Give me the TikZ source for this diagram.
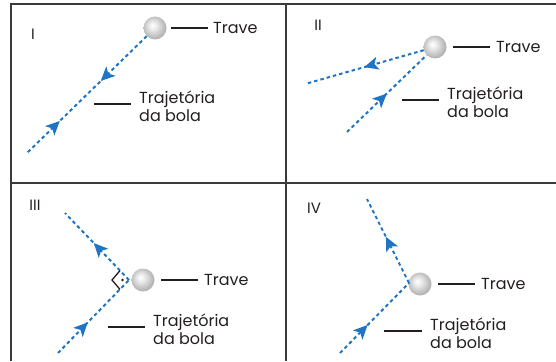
\documentclass[tikz,border=0pt]{standalone}
\usepackage{fontspec}
\setmainfont{Poppins}
\usetikzlibrary{arrows.meta,decorations.markings}
\definecolor{traj}{HTML}{1F75C4}
\definecolor{framec}{HTML}{3A3A3A}
\definecolor{ink}{HTML}{231F20}
\pgfdeclareradialshading{traveshade}{\pgfpoint{-6bp}{6bp}}{%
  color(0bp)=(white); color(8bp)=(gray!15); color(20bp)=(gray!45); color(26bp)=(gray!60); color(50bp)=(gray!60)}
\begin{document}
\begin{tikzpicture}[x=1pt,y=-1pt,
  frameline/.style={draw=framec, line width=2pt},
  trave/.style={circle, minimum size=23pt, inner sep=0pt, shading=traveshade},
  leader/.style={draw=ink, line width=1.3pt},
  lbl/.style={anchor=west, inner sep=0pt, text=ink, font=\fontsize{16}{18}\selectfont, align=left},
  num/.style={inner sep=0pt, text=ink, font=\fontsize{15}{18}\selectfont},
  trajline/.style={draw=traj, line width=2pt, dash pattern=on 3.5pt off 3pt},
  fwd/.style={postaction={decorate, decoration={markings, mark=at position #1 with {\arrow[traj]{Stealth[length=14pt,width=13pt,inset=3.5pt]}}}}},
  bwd/.style={postaction={decorate, decoration={markings, mark=at position #1 with {\arrowreversed[traj]{Stealth[length=14pt,width=13pt,inset=3.5pt]}}}}},
  rightang/.style={draw=ink, line width=1.3pt},
]
\useasboundingbox (0,0) rectangle (556,361);
% frame
\draw[frameline] (556,4) -- (11,4) -- (11,361);
\draw[frameline] (285.5,4) -- (285.5,361);
\draw[frameline] (11,183) -- (556,183);

% Panel I
\node[num] (nI) at (33,34) {I};
\node[trave] (bI) at (155,28) {};
\node[lbl] (tI) at (213,28) {Trave};
\draw[leader] ([xshift=4.5pt]bI.east) -- ([xshift=-5pt]tI.west);
\coordinate (eI) at (26,154);
\draw[trajline, fwd=0.38, bwd=0.72] (bI) -- (eI);
\node[lbl] (jI) at (139,106) {Trajetória\\da bola};
\draw[leader] ([xshift=-45pt,yshift=2pt]jI.west) -- ([xshift=-8pt,yshift=2pt]jI.west);

% Panel II
\node[num] (nII) at (318,25) {II};
\node[trave] (bII) at (435,47) {};
\node[lbl] (tII) at (496,47) {Trave};
\draw[leader] ([xshift=6.5pt]bII.east) -- ([xshift=-6pt]tII.west);
\coordinate (oII) at (305,84);
\draw[trajline, fwd=0.5] (bII) -- (oII);
\coordinate (iII) at (347,132);
\draw[trajline, fwd=0.5] (iII) -- (bII);
\node[lbl] (jII) at (447,102) {Trajetória\\da bola};
\draw[leader] ([xshift=-45pt,yshift=2pt]jII.west) -- ([xshift=-8pt,yshift=2pt]jII.west);

% Panel III
\node[num] (nIII) at (35,205) {III};
\node[trave] (bIII) at (143,280) {};
\node[lbl] (tIII) at (204,280) {Trave};
\draw[leader] ([xshift=6.5pt]bIII.east) -- ([xshift=-6pt]tIII.west);
\coordinate (hIII) at (129,280);
\coordinate (oIII) at (65,213);
\draw[trajline, fwd=0.55] (hIII) -- (oIII);
\coordinate (iIII) at (58,353);
\draw[trajline, fwd=0.42] (iIII) -- (hIII);
\draw[rightang] (hIII) ++(-9,-9.4) -- ++(-8,9.4) -- ++(8,9.4);
\fill[ink] (hIII) ++(-6.5,0) circle (1.3pt);
\node[lbl] (jIII) at (153,329) {Trajetória\\da bola};
\draw[leader] ([xshift=-45pt,yshift=2pt]jIII.west) -- ([xshift=-8pt,yshift=2pt]jIII.west);

% Panel IV
\node[num] (nIV) at (314,208) {IV};
\node[trave] (bIV) at (420,284) {};
\node[lbl] (tIV) at (481,284) {Trave};
\draw[leader] ([xshift=6.5pt]bIV.east) -- ([xshift=-6pt]tIV.west);
\coordinate (hIV) at (409,283);
\coordinate (oIV) at (367,199);
\draw[trajline, fwd=0.55] (hIV) -- (oIV);
\coordinate (iIV) at (340,353);
\draw[trajline, fwd=0.4] (iIV) -- (hIV);
\node[lbl] (jIV) at (430,333) {Trajetória\\da bola};
\draw[leader] ([xshift=-46pt,yshift=2pt]jIV.west) -- ([xshift=-8pt,yshift=2pt]jIV.west);
\end{tikzpicture}
\end{document}
